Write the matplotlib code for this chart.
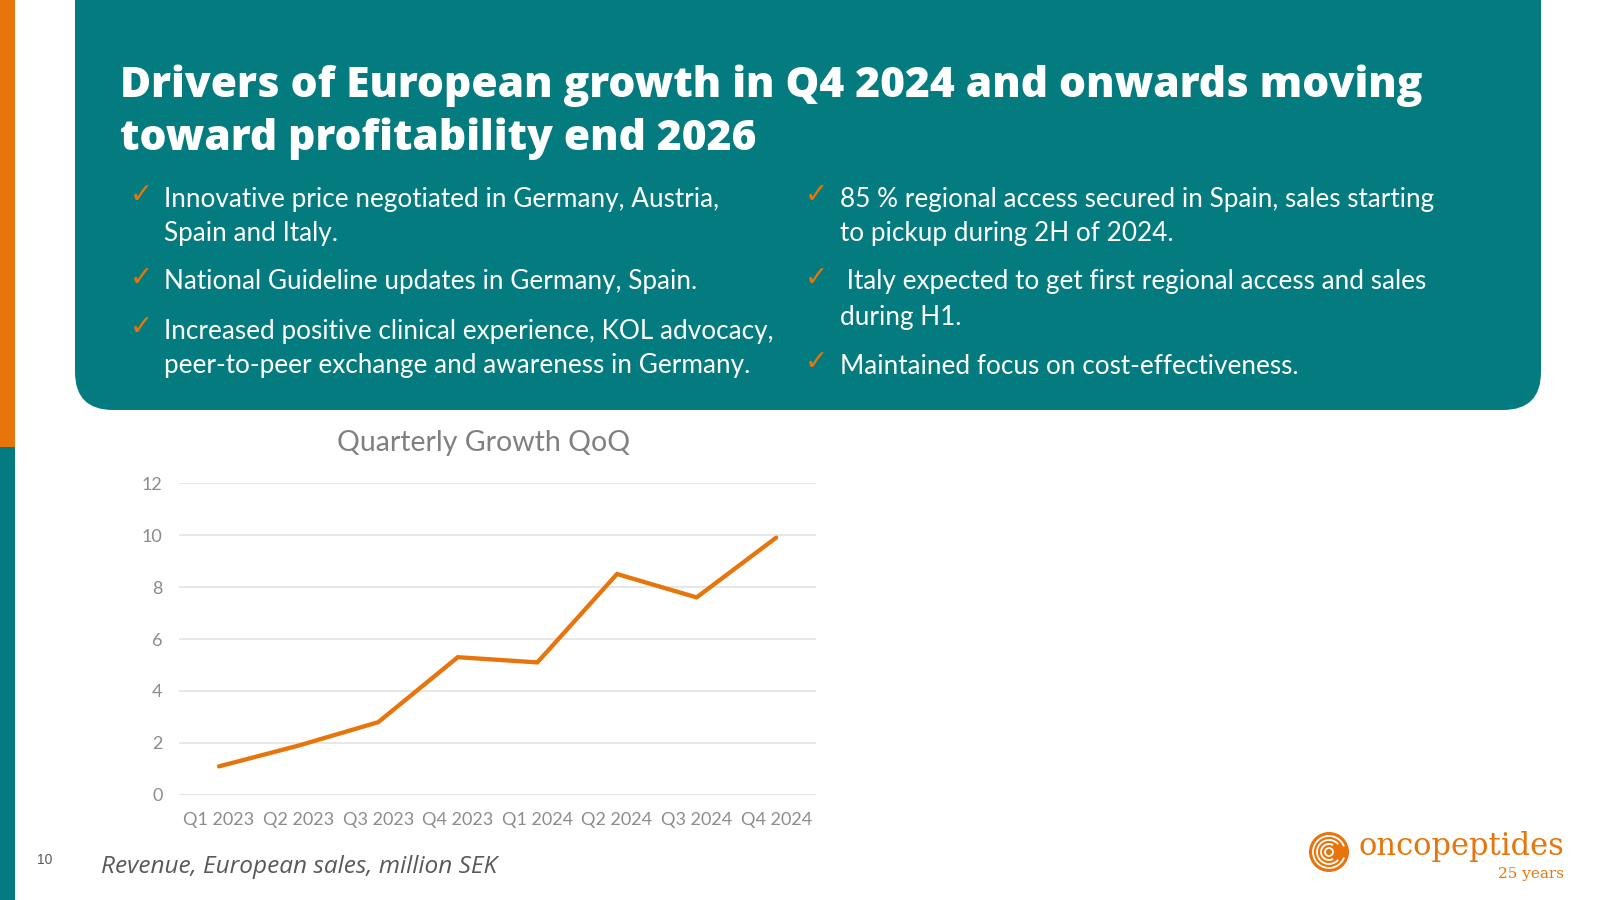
"""Slide: drivers of European growth, with quarterly revenue line chart."""

import matplotlib

matplotlib.use("Agg")
import matplotlib.pyplot as plt
from matplotlib.patches import FancyBboxPatch, Rectangle, Circle, Arc

TEAL = "#047B7F"
ORANGE = "#E8750C"
GRID = "#E3E3E3"
TICK_GRAY = "#8C8C8C"

quarters = ["Q1 2023", "Q2 2023", "Q3 2023", "Q4 2023",
            "Q1 2024", "Q2 2024", "Q3 2024", "Q4 2024"]
revenue_msek = [1.1, 1.9, 2.8, 5.3, 5.1, 8.5, 7.6, 9.9]
y_ticks = [0, 2, 4, 6, 8, 10, 12]

title_lines = ["Drivers of European growth in Q4 2024 and onwards moving",
               "toward profitability end 2026"]
left_bullets = [
    ["Innovative price negotiated in Germany, Austria,", "Spain and Italy."],
    ["National Guideline updates in Germany, Spain."],
    ["Increased positive clinical experience, KOL advocacy,",
     "peer-to-peer exchange and awareness in Germany."],
]
right_bullets = [
    ["85 % regional access secured in Spain, sales starting",
     "to pickup during 2H of 2024."],
    [" Italy expected to get first regional access and sales", "during H1."],
    ["Maintained focus on cost-effectiveness."],
]

fig = plt.figure(figsize=(16, 9), dpi=100)

# background layer in pixel coordinates
bg = fig.add_axes([0, 0, 1, 1])
bg.set_xlim(0, 1600)
bg.set_ylim(900, 0)
bg.axis("off")

bg.add_patch(Rectangle((0, 0), 15, 447, color=ORANGE, lw=0))
bg.add_patch(Rectangle((0, 447), 15, 453, color=TEAL, lw=0))
bg.add_patch(FancyBboxPatch((75, -100), 1466, 510,
                            boxstyle="round,pad=0,rounding_size=38",
                            fc=TEAL, ec="none"))

for i, line in enumerate(title_lines):
    bg.text(120, 86 + i * 53, line, color="white", fontsize=30.6,
            fontweight=800, family="Open Sans", va="center", ha="left")


def draw_bullets(items, x_check, x_text, ys):
    k = 0
    for item in items:
        bg.text(x_check, ys[k] - 4, "\u2713", color=ORANGE, fontsize=20,
                family="DejaVu Sans", va="center", ha="left")
        for line in item:
            bg.text(x_text, ys[k], line, color="white", fontsize=18.8,
                    family="Lato", va="center", ha="left")
            k += 1


draw_bullets(left_bullets, 130, 164, [199, 234, 282, 331, 366])
draw_bullets(right_bullets, 805, 840, [199, 234, 282, 317, 366])

# footer
bg.text(37, 860, "10", color="#595959", fontsize=10, va="center",
        family="Liberation Sans")
bg.text(101, 867, "Revenue, European sales, million SEK", color="#595959",
        fontsize=17.6, style="italic", va="center", family="Open Sans")

# logo
cx, cy = 1329, 852
bg.add_patch(Circle((cx, cy), 20, fc=ORANGE, ec="none"))
for r, t1, t2 in [(16, 20, 340), (12, 40, 320), (8, 60, 300), (4, 0, 360)]:
    bg.add_patch(Arc((cx, cy), 2 * r, 2 * r, theta1=t1, theta2=t2,
                     color="white", lw=1.3))
bg.text(1359, 847, "oncopeptides", color=ORANGE, fontsize=22,
        family="DejaVu Serif", va="center", ha="left")
bg.text(1564, 874, "25 years", color=ORANGE, fontsize=11,
        family="DejaVu Serif", va="center", ha="right")

# chart
ax = fig.add_axes([0.112, 0.1167, 0.398, 0.3466])
ax.patch.set_alpha(0)
x = range(len(quarters))
ax.plot(x, revenue_msek, color=ORANGE, lw=3.1, solid_capstyle="round",
        solid_joinstyle="miter", zorder=3)
ax.set_xlim(-0.5, len(quarters) - 0.5)
ax.set_ylim(0, 12)
ax.set_yticks(y_ticks)
ax.set_xticks(list(x))
ax.set_xticklabels(quarters)
ax.grid(axis="y", color=GRID, lw=1.2)
ax.set_axisbelow(True)
for s in ax.spines.values():
    s.set_visible(False)
ax.tick_params(length=0, colors=TICK_GRAY, labelsize=13, pad=12)
ax.tick_params(axis="x", pad=12)
for lab in ax.get_xticklabels() + ax.get_yticklabels():
    lab.set_family("Lato")
bg.text(484, 443, "Quarterly Growth QoQ", color="#808080", fontsize=20.5,
        family="Lato", ha="center", va="center")

fig.savefig("out.png", dpi=100)
